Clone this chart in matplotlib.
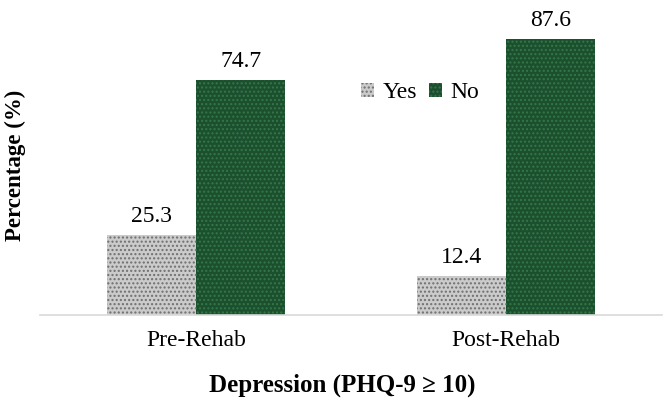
import numpy as np
import matplotlib.pyplot as plt

plt.rcParams['font.family'] = ['Liberation Serif', 'DejaVu Serif']
plt.rcParams['hatch.linewidth'] = 1.0

groups = ['Pre-Rehab', 'Post-Rehab']
series = ['Yes', 'No']
yes_vals = [25.3, 12.4]
no_vals = [74.7, 87.6]

fig = plt.figure(figsize=(6.64, 4.03), dpi=100)
ax = fig.add_axes([40 / 664, 88 / 403, 622 / 664, 315 / 403])

x = np.arange(len(groups))
w = 0.287
b1 = ax.bar(x - w / 2, yes_vals, w, facecolor='#cbcbcb', edgecolor='#6f6f6f',
            hatch='....', linewidth=0, label='Yes')
b2 = ax.bar(x + w / 2, no_vals, w, facecolor='#1b4f2e', edgecolor='#347849',
            hatch='....', linewidth=0, label='No')

for bars, vals in [(b1, yes_vals), (b2, no_vals)]:
    for rect, v in zip(bars, vals):
        ax.text(rect.get_x() + rect.get_width() / 2, v + 2.6, f'{v:.1f}',
                ha='center', va='bottom', fontsize=17)

ax.set_xlim(-0.505, 1.505)
ax.set_ylim(0, 100)
ax.set_xticks(x)
ax.set_xticklabels(groups, fontsize=17)
ax.tick_params(axis='x', length=0, pad=11)
ax.set_yticks([])
for s in ['top', 'right', 'left']:
    ax.spines[s].set_visible(False)
ax.spines['bottom'].set_color('#d9d9d9')
ax.spines['bottom'].set_linewidth(1.2)

fig.text(342 / 664, 1 - 385 / 403, 'Depression (PHQ-9 ≥ 10)', ha='center',
         va='center', fontsize=18, fontweight='bold')
fig.text(15 / 664, 1 - 165 / 403, 'Percentage (%)', ha='center', va='center',
         rotation=90, fontsize=16.5, fontweight='bold')

ax.legend(frameon=False, ncol=2, fontsize=17, handlelength=0.55,
          handleheight=0.55, handletextpad=0.35, columnspacing=0.5,
          loc='center', bbox_to_anchor=(420 / 664, 1 - 93 / 403),
          bbox_transform=fig.transFigure)

fig.savefig('out.png', dpi=100)
